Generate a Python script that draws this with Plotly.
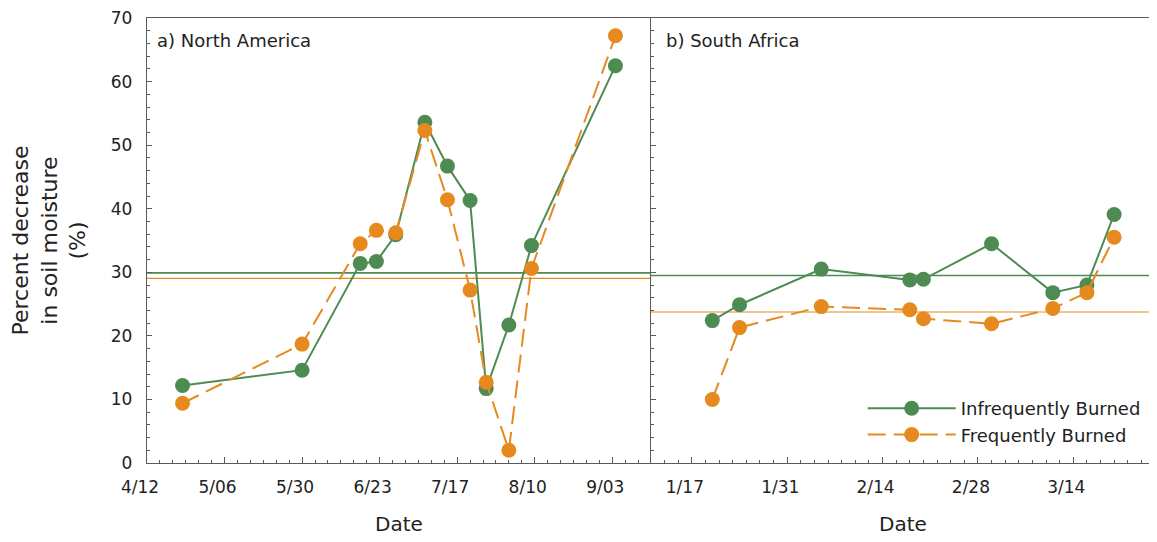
import plotly.graph_objects as go

# ---------------- data ----------------
na_dates = ["2001-04-23", "2001-05-30", "2001-06-17", "2001-06-22", "2001-06-28", "2001-07-07",
            "2001-07-14", "2001-07-21", "2001-07-26", "2001-08-02", "2001-08-09", "2001-09-04"]
na_infreq = [12.2, 14.6, 31.4, 31.7, 35.9, 53.6, 46.7, 41.3, 11.7, 21.7, 34.2, 62.5]
na_freq = [9.4, 18.7, 34.5, 36.6, 36.2, 52.3, 41.4, 27.2, 12.7, 2.0, 30.6, 67.2]
na_mean_infreq = 29.9
na_mean_freq = 29.05

sa_dates = ["2001-01-20", "2001-01-24", "2001-02-05", "2001-02-18", "2001-02-20",
            "2001-03-02", "2001-03-11", "2001-03-16", "2001-03-20"]
sa_infreq = [22.4, 24.9, 30.5, 28.8, 28.9, 34.5, 26.8, 28.0, 39.1]
sa_freq = [10.0, 21.3, 24.6, 24.1, 22.7, 21.9, 24.3, 26.8, 35.5]
sa_mean_infreq = 29.5
sa_mean_freq = 23.75

na_tickvals = ["2001-04-12", "2001-05-06", "2001-05-30", "2001-06-23", "2001-07-17", "2001-08-10", "2001-09-03"]
na_ticktext = ["4/12", "5/06", "5/30", "6/23", "7/17", "8/10", "9/03"]
sa_tickvals = ["2001-01-17", "2001-01-31", "2001-02-14", "2001-02-28", "2001-03-14"]
sa_ticktext = ["1/17", "1/31", "2/14", "2/28", "3/14"]

na_range = ["2001-04-12", "2001-09-15"]
sa_range = ["2001-01-11", "2001-03-26"]

# ---------------- style ----------------
GREEN = "#4E8B53"
ORANGE = "#E68A1F"
FRAME = "#5a5a5a"
TXT = "#222222"
FONT = "DejaVu Sans"
DAY = 86400000

fig = go.Figure()

def add_series(x, y, xa, ya, show):
    fig.add_trace(go.Scatter(x=x, y=y, xaxis=xa, yaxis=ya, mode="lines+markers",
                             name="Infrequently Burned", legendgroup="inf", showlegend=show,
                             line=dict(color=GREEN, width=2),
                             marker=dict(color=GREEN, size=15, line=dict(width=0))))

def add_series2(x, y, xa, ya, show):
    fig.add_trace(go.Scatter(x=x, y=y, xaxis=xa, yaxis=ya, mode="lines+markers",
                             name="Frequently Burned", legendgroup="fr", showlegend=show,
                             line=dict(color=ORANGE, width=2, dash="18px,8px"),
                             marker=dict(color=ORANGE, size=15, line=dict(width=0))))

add_series(na_dates, na_infreq, "x", "y", True)
add_series2(na_dates, na_freq, "x", "y", True)
add_series(sa_dates, sa_infreq, "x2", "y2", False)
add_series2(sa_dates, sa_freq, "x2", "y2", False)

# mean lines
for xref, yref, val, col, w in [("x domain", "y", na_mean_infreq, GREEN, 1.6),
                                ("x domain", "y", na_mean_freq, ORANGE, 1.4),
                                ("x2 domain", "y2", sa_mean_infreq, GREEN, 1.6),
                                ("x2 domain", "y2", sa_mean_freq, ORANGE, 1.2)]:
    fig.add_shape(type="line", xref=xref, yref=yref, x0=0, x1=1, y0=val, y1=val,
                  line=dict(color=col, width=w), layer="below")

tickfont = dict(family=FONT, size=17, color=TXT)

def xaxis_common(tv, tt, rng, minor_days, domain):
    return dict(type="date", domain=domain, range=rng, tickmode="array", tickvals=tv, ticktext=tt,
                ticks="inside", ticklen=6, tickwidth=1, tickcolor=FRAME,
                minor=dict(tickmode="linear", tick0=rng[0], dtick=minor_days * DAY,
                           ticks="inside", ticklen=3, tickwidth=1, tickcolor=FRAME),
                showline=True, linecolor=FRAME, linewidth=1.3, mirror=True,
                showgrid=False, zeroline=False, tickfont=tickfont, automargin=False,
                ticklabelshift=-7, ticklabelstandoff=8, ticklabeloverflow="allow",
                title=dict(text="Date", font=dict(family=FONT, size=20, color=TXT), standoff=21))

yax = dict(range=[0, 70], dtick=10, ticks="inside", ticklen=5, tickwidth=1, tickcolor=FRAME,
           minor=dict(dtick=2, ticks="inside", ticklen=2.5, tickwidth=1, tickcolor=FRAME),
           showline=True, linecolor=FRAME, linewidth=1.3,
           showgrid=False, zeroline=False, automargin=False, ticklabeloverflow="allow")

# page body adds an 8px offset; margins compensate so the plot area lands near x 147-1155, y 18-463
fig.update_layout(
    width=1157, height=542,
    margin=dict(l=139, r=10, t=10, b=87),
    paper_bgcolor="white", plot_bgcolor="white",
    font=dict(family=FONT, color=TXT),
    xaxis=xaxis_common(na_tickvals, na_ticktext, na_range, 4, [0, 0.5]),
    xaxis2=xaxis_common(sa_tickvals, sa_ticktext, sa_range, 2, [0.5, 1]),
    yaxis=dict(**yax, mirror=False, tickfont=tickfont, ticklabelstandoff=10,
               title=dict(text="Percent decrease<br>in soil moisture<br>(%)",
                          font=dict(family=FONT, size=22, color=TXT), standoff=19)),
    yaxis2=dict(**yax, mirror=True, anchor="x2", showticklabels=False),
    legend=dict(x=0.71, y=0.164, xanchor="left", yanchor="top", bgcolor="rgba(0,0,0,0)",
                font=dict(family=FONT, size=18, color=TXT), itemwidth=88, tracegroupgap=0),
    annotations=[
        dict(text="a) North America", xref="x domain", yref="y domain", x=0.016, y=0.95,
             xanchor="left", yanchor="middle", showarrow=False,
             font=dict(family=FONT, size=18, color=TXT)),
        dict(text="b) South Africa", xref="x2 domain", yref="y2 domain", x=0.026, y=0.95,
             xanchor="left", yanchor="middle", showarrow=False,
             font=dict(family=FONT, size=18, color=TXT)),
    ],
)

fig.write_html("out.html")
